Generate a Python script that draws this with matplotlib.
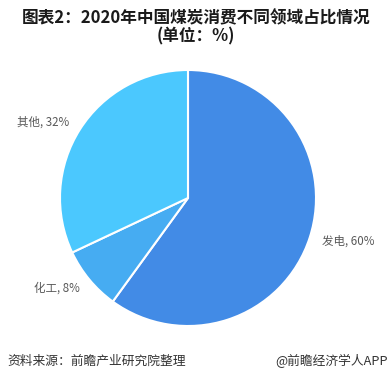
import matplotlib
matplotlib.use("Agg")
import matplotlib.pyplot as plt

plt.rcParams['font.family'] = ['Noto Sans CJK SC', 'DejaVu Sans']

categories = ['发电', '化工', '其他']
values = [60, 8, 32]
colors = ['#428BE6', '#46ACF2', '#4BC8FE']
title_text = '图表2：2020年中国煤炭消费不同领域占比情况\n(单位：%)'
source_text = '资料来源：前瞻产业研究院整理'
brand_text = '@前瞻经济学人APP'

W, H = 392, 382
fig = plt.figure(figsize=(W / 100, H / 100), dpi=100)

cx, cy, r = 188, 198, 128
ax = fig.add_axes([(cx - r) / W, (H - cy - r) / H, 2 * r / W, 2 * r / H])

labels = [f'{c}, {v}%' for c, v in zip(categories, values)]
wedges, texts = ax.pie(values, labels=labels, colors=colors, startangle=90,
                       counterclock=False, labeldistance=1.1,
                       wedgeprops=dict(edgecolor='white', linewidth=1.5),
                       textprops=dict(fontsize=8.3, color='#595959'))
ax.set_xlim(-1, 1)
ax.set_ylim(-1, 1)
ax.set_aspect('equal')

fig.text(0.5, 1 - 27 / H, title_text, ha='center', va='center', fontsize=12,
         fontweight='bold', color='#1a1a1a', linespacing=1.0)
fig.text(7 / W, 1 - 361 / H, source_text, ha='left', va='center', fontsize=9.2, color='#333333')
fig.text(388 / W, 1 - 361 / H, brand_text, ha='right', va='center', fontsize=9.2, color='#333333')

fig.savefig('out.png', dpi=100)
